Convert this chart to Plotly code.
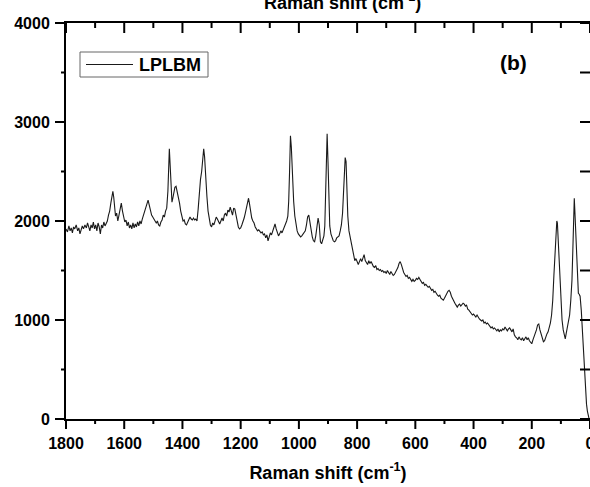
import plotly.graph_objects as go

series_name = "LPLBM"
panel_label = "(b)"
axis_title = "Raman shift (cm<sup>-1</sup>)"

raman_shift = [
    1800, 1795, 1790, 1786, 1782, 1778, 1774, 1770, 1765, 1760, 1756, 1752, 1748, 1744, 1740, 1735,
    1730, 1726, 1722, 1718, 1714, 1710, 1706, 1702, 1698, 1694, 1690, 1686, 1682, 1678, 1674, 1670,
    1666, 1662, 1658, 1654, 1650, 1646, 1642, 1639, 1636, 1633, 1630, 1626, 1622, 1618, 1614, 1610,
    1606, 1602, 1598, 1594, 1590, 1586, 1582, 1578, 1574, 1570, 1566, 1562, 1558, 1554, 1550, 1546,
    1542, 1538, 1534, 1530, 1526, 1522, 1518, 1514, 1510, 1506, 1502, 1498, 1494, 1490, 1486, 1482,
    1478, 1474, 1470, 1466, 1462, 1458, 1454, 1450, 1447, 1445, 1442, 1439, 1436, 1433, 1430, 1426,
    1422, 1418, 1414, 1410, 1406, 1402, 1398, 1394, 1390, 1386, 1382, 1378, 1374, 1370, 1366, 1362,
    1358, 1354, 1350, 1346, 1342, 1338, 1334, 1330, 1327, 1324, 1320, 1316, 1312, 1308, 1304, 1300,
    1296, 1292, 1288, 1284, 1280, 1276, 1272, 1268, 1264, 1260, 1256, 1252, 1248, 1244, 1240, 1236,
    1232, 1228, 1224, 1220, 1216, 1212, 1208, 1204, 1200, 1196, 1192, 1188, 1184, 1180, 1176, 1173,
    1170, 1166, 1162, 1158, 1154, 1150, 1146, 1142, 1138, 1134, 1130, 1126, 1122, 1118, 1114, 1110,
    1106, 1102, 1098, 1094, 1090, 1086, 1082, 1078, 1074, 1070, 1066, 1062, 1058, 1054, 1050, 1046,
    1042, 1038, 1035, 1032, 1029, 1026, 1022, 1018, 1014, 1010, 1006, 1002, 998, 994, 990, 986,
    982, 978, 974, 970, 966, 962, 958, 954, 950, 946, 942, 938, 934, 930, 926, 922,
    918, 914, 911, 908, 905, 903, 900, 897, 894, 890, 886, 882, 878, 874, 870, 866,
    862, 858, 854, 850, 847, 844, 841, 838, 835, 832, 828, 824, 820, 816, 812, 808,
    804, 800, 796, 792, 788, 784, 780, 776, 772, 768, 764, 760, 756, 752, 748, 744,
    740, 736, 732, 728, 724, 720, 716, 712, 708, 704, 700, 696, 692, 688, 684, 680,
    676, 672, 668, 664, 660, 656, 652, 648, 644, 640, 636, 632, 628, 624, 620, 616,
    612, 608, 604, 600, 596, 592, 588, 584, 580, 576, 572, 568, 564, 560, 556, 552,
    548, 544, 540, 536, 532, 528, 524, 520, 516, 512, 508, 504, 500, 496, 492, 488,
    484, 480, 476, 472, 468, 464, 460, 456, 452, 448, 444, 440, 436, 432, 428, 424,
    420, 416, 412, 408, 404, 400, 396, 392, 388, 384, 380, 376, 372, 368, 364, 360,
    356, 352, 348, 344, 340, 336, 332, 328, 324, 320, 316, 312, 308, 304, 300, 296,
    292, 288, 284, 280, 276, 272, 268, 264, 260, 256, 252, 248, 244, 240, 236, 232,
    228, 224, 220, 216, 212, 208, 204, 200, 196, 192, 188, 184, 180, 176, 172, 168,
    164, 160, 156, 152, 148, 144, 140, 136, 132, 128, 124, 120, 117, 114, 112, 110,
    107, 104, 100, 96, 92, 88, 85, 82, 78, 74, 70, 66, 62, 59, 56, 54,
    52, 49, 46, 43, 40, 37, 34, 30, 27, 24, 21, 18, 15, 12, 9, 6, 3,
]

intensity = [
    1920, 1890, 1950, 1900, 1930, 1880, 1940, 1920, 1960, 1900, 1930, 1870, 1910, 1950, 1920, 1960,
    1930, 1980, 1940, 1900, 1960, 1930, 1990, 1920, 1960, 1900, 1980, 1940, 1870, 1960, 1930, 1990,
    1950, 1980, 2000, 2060, 2100, 2180, 2270, 2300, 2240, 2120, 2050, 2080, 2000, 2060, 2120, 2180,
    2100, 2030, 1990, 2010, 1950, 1990, 1930, 1960, 1920, 1980, 1930, 1970, 1940, 1990, 1950, 2000,
    1970, 2020, 2060, 2100, 2150, 2190, 2210, 2160, 2090, 2060, 2040, 2010, 2000, 1980, 2000, 1960,
    1950, 1990, 2010, 2060, 2040, 2100, 2130, 2300, 2600, 2730, 2550, 2300, 2190, 2230, 2290, 2340,
    2350, 2300, 2230, 2180, 2100, 2050, 2000, 2010, 1970, 1960, 1990, 2030, 2040, 2020, 2010, 2030,
    2010, 2020, 2000, 2120, 2300, 2420, 2500, 2620, 2730, 2650, 2400, 2250, 2100, 2020, 1960, 1940,
    1980, 1960, 2010, 2040, 2020, 2000, 1970, 2000, 2030, 2000, 2060, 2080, 2050, 2110, 2090, 2140,
    2100, 2060, 2130, 2120, 2060, 1990, 1940, 1920, 1930, 1960, 1990, 2030, 2080, 2150, 2220, 2230,
    2180, 2090, 2030, 2000, 1980, 1940, 1920, 1900, 1910, 1890, 1880, 1890, 1860, 1870, 1830, 1860,
    1800, 1840, 1880, 1860, 1900, 1940, 1970, 1920, 1880, 1850, 1870, 1900, 1880, 1910, 1930, 1960,
    2000, 2050, 2200, 2500, 2860, 2750, 2450, 2200, 2050, 1950, 1900, 1870, 1860, 1840, 1850, 1870,
    1890, 1900, 1960, 2040, 2060, 1980, 1880, 1840, 1800, 1790, 1850, 1980, 2030, 1960, 1790, 1770,
    1820, 1850, 1950, 2300, 2700, 2880, 2600, 2200, 1950, 1870, 1830, 1800, 1790, 1800, 1830, 1840,
    1850, 1900, 1960, 2080, 2300, 2500, 2640, 2600, 2300, 2050, 1900, 1840, 1780, 1730, 1650, 1600,
    1620, 1580, 1560, 1590, 1620, 1590, 1640, 1660, 1600, 1580, 1560, 1600, 1570, 1590, 1560, 1540,
    1530, 1550, 1510, 1520, 1500, 1510, 1490, 1500, 1480, 1490, 1470, 1500, 1480, 1460, 1490, 1470,
    1450, 1460, 1480, 1500, 1530, 1570, 1590, 1560, 1510, 1480, 1460, 1440, 1450, 1420, 1430, 1400,
    1390, 1410, 1390, 1400, 1420, 1410, 1430, 1410, 1390, 1370, 1380, 1350, 1360, 1340, 1330, 1340,
    1310, 1300, 1310, 1280, 1290, 1260, 1250, 1240, 1250, 1220, 1210, 1200, 1220, 1250, 1270, 1290,
    1300, 1280, 1240, 1210, 1190, 1170, 1150, 1130, 1150, 1160, 1140, 1150, 1170, 1160, 1140, 1150,
    1110, 1100, 1080, 1070, 1050, 1060, 1040, 1030, 1050, 1020, 1010, 1000, 990, 1000, 970, 980,
    960, 970, 950, 940, 920, 930, 910, 920, 900, 890, 910, 880, 900, 890, 910, 900,
    930, 900, 890, 910, 920, 900, 880, 910, 850, 830, 820, 800, 830, 810, 800, 820,
    790, 810, 830, 800, 820, 790, 770, 760, 800, 830, 860, 900, 950, 960, 900, 850,
    800, 780, 790, 830, 860, 880, 920, 970, 1050, 1200, 1450, 1700, 1900, 2000, 1980, 1850,
    1700, 1450, 1200, 1000, 900, 820, 810, 860, 920, 1000, 1050, 1200, 1400, 1700, 2100, 2230,
    2100, 1900, 1700, 1450, 1270, 1260, 1240, 1100, 940, 750, 550, 400, 260, 150, 80, 30, 0,
]

x_range = [1800, 0]
y_range = [0, 4000]
x_major = [1800, 1600, 1400, 1200, 1000, 800, 600, 400, 200, 0]
x_minor = [1700, 1500, 1300, 1100, 900, 700, 500, 300, 100]
y_major = [0, 1000, 2000, 3000, 4000]
y_minor = [500, 1500, 2500, 3500]

FONT = "Liberation Sans, Arial, sans-serif"

L, R, T, B = 66, 590, 23, 419
W, H = R - L, B - T
def px(x):
    return (x - L) / W
def py(y):
    return (B - y) / H
def xfrac(v):
    return (x_range[0] - v) / (x_range[0] - x_range[1])
def yfrac(v):
    return (v - y_range[0]) / (y_range[1] - y_range[0])

fig = go.Figure()
fig.add_trace(go.Scatter(
    x=raman_shift, y=intensity, mode="lines", name=series_name,
    line=dict(color="#1a1a1a", width=1.1), showlegend=False,
))

fig.update_layout(
    width=590, height=487,
    margin=dict(l=L, r=590 - R, t=T, b=487 - B, autoexpand=False),
    paper_bgcolor="white", plot_bgcolor="white",
    font=dict(family=FONT, color="black"),
    showlegend=False,
    xaxis=dict(
        range=x_range, tickmode="array", tickvals=x_major, ticks="",
        showline=True, mirror=True, linecolor="black", linewidth=2,
        showgrid=False, zeroline=False, automargin=False,
        tickfont=dict(family=FONT, size=16, weight="bold"), ticklabeloverflow="allow",
        ticklabelstandoff=9,
        title=dict(text=axis_title, font=dict(family=FONT, size=18, weight="bold"), standoff=15),
    ),
    yaxis=dict(
        range=y_range, tickmode="array", tickvals=y_major, ticks="",
        showline=True, mirror=True, linecolor="black", linewidth=2,
        showgrid=False, zeroline=False, automargin=False,
        tickfont=dict(family=FONT, size=16, weight="bold"),
        ticklabelstandoff=11,
    ),
)

# tick marks (paper-referenced, unclipped): outward on bottom/left, inward on top/right
TICK = dict(color="black", width=2)
def xtick(v, y_edge, length_px):
    xf = xfrac(v)
    fig.add_shape(type="line", xref="paper", yref="paper", x0=xf, x1=xf,
                  y0=y_edge, y1=y_edge + length_px / H, line=TICK, layer="above")
def ytick(v, x_edge, length_px):
    yf = yfrac(v)
    fig.add_shape(type="line", xref="paper", yref="paper", y0=yf, y1=yf,
                  x0=x_edge, x1=x_edge + length_px / W, line=TICK, layer="above")

for v in x_major:
    xtick(v, 0, -10)   # bottom, outward
    xtick(v, 1, -10)   # top, inward
for v in x_minor:
    xtick(v, 0, -5)
    xtick(v, 1, -5)
for v in y_major:
    ytick(v, 0, -11)   # left, outward
    ytick(v, 1, -10)   # right, inward
for v in y_minor:
    ytick(v, 0, -5)
    ytick(v, 1, -10)

# legend box drawn as a panel decoration
fig.add_shape(type="rect", xref="paper", yref="paper",
              x0=px(80), x1=px(208), y0=py(77), y1=py(52),
              line=dict(color="#666", width=1), fillcolor="white")
fig.add_shape(type="line", xref="paper", yref="paper",
              x0=px(86), x1=px(133), y0=py(64.5), y1=py(64.5),
              line=dict(color="#1a1a1a", width=1.1))
fig.add_annotation(
    text=series_name, xref="paper", yref="paper", x=px(137), y=py(64.5),
    xanchor="left", yanchor="middle", showarrow=False,
    font=dict(family=FONT, size=18, weight="bold", color="black"),
)
fig.add_annotation(
    text=panel_label, xref="paper", yref="paper", x=px(513), y=py(63),
    xanchor="center", yanchor="middle", showarrow=False,
    font=dict(family=FONT, size=21, weight="bold", color="black"),
)
fig.add_annotation(
    text=axis_title, xref="paper", yref="paper", x=px(342), y=1,
    xanchor="center", yanchor="bottom", yshift=8, showarrow=False,
    font=dict(family=FONT, size=18, weight="bold", color="black"),
)

fig.write_html("out.html")
